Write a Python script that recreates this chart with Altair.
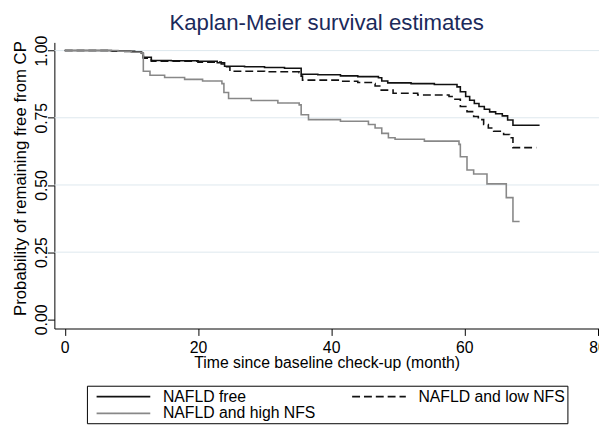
import altair as alt
import pandas as pd

groups = ["NAFLD free", "NAFLD and high NFS", "NAFLD and low NFS"]

free_t = [0, 7, 9, 10.5, 11.5, 11.8, 13, 16, 20, 22.9, 24.0, 27, 30, 33, 35.5, 38, 41.4, 44,
          47.1, 47.6, 48.5, 52, 55.5, 58.9, 59.4, 60.2, 60.8, 61.5, 62.2, 63.0, 63.8, 64.7,
          65.7, 66.5, 67.3, 71.3]
free_s = [1.0, 0.999, 0.997, 0.995, 0.990, 0.975, 0.963, 0.962, 0.960, 0.955, 0.942, 0.940,
          0.937, 0.934, 0.912, 0.910, 0.906, 0.903, 0.899, 0.887, 0.880, 0.877, 0.874, 0.865,
          0.847, 0.829, 0.815, 0.803, 0.792, 0.782, 0.772, 0.765, 0.757, 0.742, 0.722, 0.722]

low_t = [0, 7, 10.5, 11.5, 11.8, 13, 20, 23.5, 24.3, 24.8, 30, 35.2, 35.5, 35.7, 41.4, 44,
         46.3, 46.6, 47.3, 49.3, 53, 57.7, 58.4, 59.4, 60.4, 61.4, 62.1, 62.9, 63.6, 64.4,
         65.9, 66.8, 67.3, 70.8]
low_s = [1.0, 0.999, 0.995, 0.990, 0.972, 0.960, 0.957, 0.950, 0.940, 0.923, 0.921, 0.918,
         0.905, 0.890, 0.886, 0.881, 0.877, 0.868, 0.853, 0.841, 0.835, 0.829, 0.819, 0.792,
         0.773, 0.755, 0.743, 0.725, 0.712, 0.700, 0.688, 0.676, 0.639, 0.639]

high_t = [0, 8, 10, 11.6, 11.8, 12.8, 15, 18, 20.7, 23.6, 23.9, 24.6, 28, 32, 35.2, 35.5,
          36.6, 41.4, 45.6, 46.6, 47.6, 48.6, 49.6, 54, 59.2, 59.4, 60.4, 61.4, 63.4, 66.3,
          67.3, 68.3]
high_s = [1.0, 0.998, 0.994, 0.989, 0.923, 0.908, 0.900, 0.893, 0.887, 0.877, 0.844, 0.822,
          0.814, 0.805, 0.798, 0.761, 0.743, 0.737, 0.725, 0.712, 0.692, 0.676, 0.670, 0.663,
          0.651, 0.605, 0.556, 0.541, 0.504, 0.453, 0.364, 0.364]

x_ticks = [0, 20, 40, 60, 80]
y_ticks = [0, 0.25, 0.5, 0.75, 1.0]
grid_vals = [0.25, 0.5, 0.75, 1.0]

rows = []
for g, ts, ss in [("NAFLD free", free_t, free_s), ("NAFLD and low NFS", low_t, low_s),
                  ("NAFLD and high NFS", high_t, high_s)]:
    for t, s in zip(ts, ss):
        rows.append({"group": g, "t": t, "s": s})
df = pd.DataFrame(rows)

FONT = "Liberation Sans"
xscale = alt.Scale(domain=[-1.556, 80.22], nice=False, zero=False)
yscale = alt.Scale(domain=[-0.034, 1.0305], nice=False, zero=False)

yaxis = alt.Axis(
    values=y_ticks, format=".2f", labelAngle=270, labelAlign="center",
    labelBaseline="alphabetic", labelPadding=1, tickSize=7, grid=False,
    title="Probability of remaining free from CP", titleAngle=270, titleX=-34,
    titleY=137.5, titleAlign="center", titleBaseline="middle", titleFontSize=17,
    labelFontSize=16, labelFlush=False, labelOverlap=False,
    domainColor="black", tickColor="black", labelColor="black", titleColor="black",
    titleFontWeight="normal", labelFont=FONT, titleFont=FONT)

grid = alt.Chart(pd.DataFrame({"s": grid_vals})).mark_rule(
    color="#dde8ee", strokeWidth=1
).encode(y=alt.Y("s:Q", scale=yscale, axis=yaxis))

leg = alt.Legend(
    orient="none", legendX=33, legendY=348, columns=2,
    symbolType="M-3.4,0H3.4", symbolSize=256, symbolStrokeWidth=1.8,
    symbolOffset=26, labelFont=FONT, labelFontSize=16, labelColor="black",
    labelOffset=31, columnPadding=29, rowPadding=-1, padding=2,
    strokeColor="black", labelLimit=400,
)

lines = alt.Chart(df).mark_line(interpolate="step-after").encode(
    x=alt.X("t:Q", scale=xscale, axis=alt.Axis(
        values=x_ticks, title="Time since baseline check-up (month)",
        tickSize=7, labelFontSize=16, titleFontSize=16, labelPadding=4, titlePadding=0,
        grid=False, domainColor="black", tickColor="black", labelColor="black",
        titleColor="black", titleFontWeight="normal", labelFlush=False,
        labelOverlap=False, labelFont=FONT, titleFont=FONT)),
    y=alt.Y("s:Q", scale=yscale, axis=yaxis),
    color=alt.Color("group:N", scale=alt.Scale(domain=groups, range=["#111111", "#888888", "#111111"]),
                    title=None, legend=leg),
    strokeDash=alt.StrokeDash("group:N", scale=alt.Scale(domain=groups, range=[[1, 0], [1, 0], [8, 4]]),
                              title=None, legend=leg),
    strokeWidth=alt.StrokeWidth("group:N", scale=alt.Scale(domain=groups, range=[1.6, 1.6, 2.2]),
                                legend=None),
    order="t:Q",
)

chart = alt.layer(grid, lines).properties(
    width=552, height=290,
    padding={"left": 47, "top": 32, "right": 0, "bottom": 99},
    autosize=alt.AutoSizeParams(type="none"),
    title=alt.TitleParams("Kaplan-Meier survival estimates", fontSize=22.5, color="#1b2a5b",
                          font=FONT, fontWeight="normal", anchor="middle", offset=1),
    background="white",
).configure_view(stroke=None)

chart.save("out.html", embed_options={"renderer": "svg", "actions": False})
